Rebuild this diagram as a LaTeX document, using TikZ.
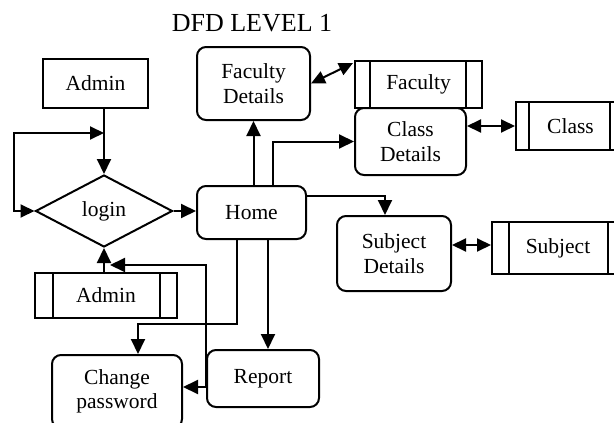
\documentclass[tikz,border=0pt]{standalone}
\usepackage{fontspec}
\setmainfont{Liberation Serif}
\usetikzlibrary{arrows.meta,shapes.geometric}
\tikzset{
  base/.style={draw, line width=2pt, inner sep=0pt, align=center, font=\fontsize{21.5}{24.5}\selectfont},
  ent/.style={base, rectangle},
  proc/.style={base, rectangle, rounded corners=9pt},
  dec/.style={base, diamond},
  store/.style 2 args={base, rectangle,
    path picture={
      \draw[line width=2pt] ([xshift=#1]path picture bounding box.north west) -- ([xshift=#1]path picture bounding box.south west);
      \draw[line width=2pt] ([xshift=-#2]path picture bounding box.north east) -- ([xshift=-#2]path picture bounding box.south east);
    }},
  conn/.style={line width=2pt, -{Triangle[length=15pt,width=14pt]}},
  biconn/.style={line width=2pt, {Triangle[length=14pt,width=13pt]}-{Triangle[length=14pt,width=13pt]}},
}
\begin{document}
\begin{tikzpicture}[x=1pt,y=-1pt]
\useasboundingbox (0,0) rectangle (614,423);
\clip (0,0) rectangle (614,423);
\node[font=\fontsize{26}{30}\selectfont] (title) at (252,23) {DFD LEVEL 1};
\node[ent, minimum width=105pt, minimum height=49pt] (admin) at (95.5,83.5) {Admin};
\node[dec, minimum width=137pt, minimum height=72pt] (login) at (104,211) {login};
\node[proc, minimum width=109pt, minimum height=53pt] (home) at (251.5,212.5) {Home};
\node[proc, minimum width=113pt, minimum height=73pt] (fd) at (253.5,83.5) {Faculty\\Details};
\node[proc, minimum width=111pt, minimum height=67pt] (cd) at (410.5,141.5) {Class\\Details};
\node[store={15pt}{16pt}, fill=white, minimum width=127pt, minimum height=47pt] (fstore) at (418.5,84.5) {Faculty};
\node[store={13pt}{15pt}, minimum width=109pt, minimum height=48pt] (cstore) at (570.5,126) {Class};
\node[proc, minimum width=114pt, minimum height=75pt] (sd) at (394,253.5) {Subject\\Details};
\node[store={17pt}{16pt}, minimum width=132pt, minimum height=52pt] (sstore) at (558,248) {Subject};
\node[store={18pt}{17pt}, minimum width=142pt, minimum height=45pt] (astore) at (106,295.5) {Admin};
\node[proc, minimum width=112pt, minimum height=57pt] (report) at (263,378.5) {Report};
\node[proc, minimum width=130pt, minimum height=73pt] (cp) at (117,391.5) {Change\\password};
% loop coordinates
\coordinate (lpa) at (14,211);
\coordinate (lpb) at (14,133);
\coordinate (lpc) at (104,133);
\coordinate (j1) at (206,387);
\coordinate (j2) at (110,265);
% connectors
\draw[conn] (login.north |- admin.south) -- (login.north);
\draw[biconn] (login.west) -- (lpa) -- (lpb) -- (lpc);
\draw[conn] (login.east) -- (login.east -| home.west);
\draw[conn] (fd.south |- home.north) -- (fd.south);
\draw[conn] ([xshift=21.5pt]home.north) |- (cd.west);
\draw[biconn] (fd.east) -- ([xshift=-1pt,yshift=-3pt]fstore.north west);
\draw[biconn] (cstore.west -| cd.east) -- (cstore.west);
\draw[conn] ([yshift=16.5pt]home.east) -| ([xshift=-9pt]sd.north);
\draw[biconn] ([yshift=3pt]sstore.west -| sd.east) -- ([yshift=3pt]sstore.west);
\draw[conn] ([xshift=16.5pt]home.south) -- ([xshift=16.5pt]home.south |- report.north);
\draw[conn] ([xshift=-14.5pt]home.south) -- ++(0,84) -| ([xshift=21pt]cp.north);
\draw[conn] ([yshift=-8.5pt]report.west) -- ([yshift=-8.5pt]report.west -| cp.east);
\draw[conn] (j1) |- (j2);
\draw[conn] (login.south |- astore.north) -- (login.south);
\end{tikzpicture}
\end{document}
